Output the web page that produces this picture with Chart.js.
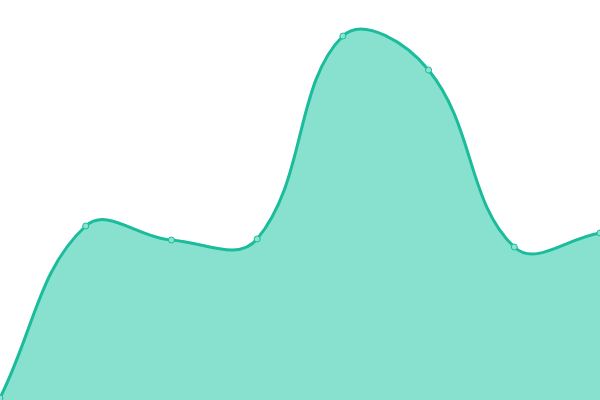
<!DOCTYPE html>
<html>
<head>
<meta charset="utf-8">
<script src="https://cdn.jsdelivr.net/npm/chart.js@4/dist/chart.umd.min.js"></script>
<style>
  html, body { margin: 0; padding: 0; background: #fff; }
  #wrap { width: 600px; height: 400px; }
</style>
</head>
<body>
<div id="wrap"><canvas id="c"></canvas></div>
<script>
  const labels = ["1", "2", "3", "4", "5", "6", "7", "8"];
  const values = [2, 174, 160, 161, 364, 330, 153, 167];

  new Chart(document.getElementById("c"), {
    type: "line",
    data: {
      labels,
      datasets: [{
        data: values,
        borderColor: "#1abc9c",
        backgroundColor: "#88e0cf",
        borderWidth: 3,
        fill: true,
        tension: 0.4,
        pointRadius: 3,
        pointBorderWidth: 1,
        pointBackgroundColor: "#8ce3d1",
        pointBorderColor: "#1abc9c",
      }],
    },
    options: {
      responsive: true,
      maintainAspectRatio: false,
      animation: false,
      layout: { autoPadding: false, padding: 0 },
      plugins: { legend: { display: false }, tooltip: { enabled: false } },
      scales: {
        x: { display: false, offset: false },
        y: { display: false, min: 0, max: 400 },
      },
    },
  });
</script>
</body>
</html>
